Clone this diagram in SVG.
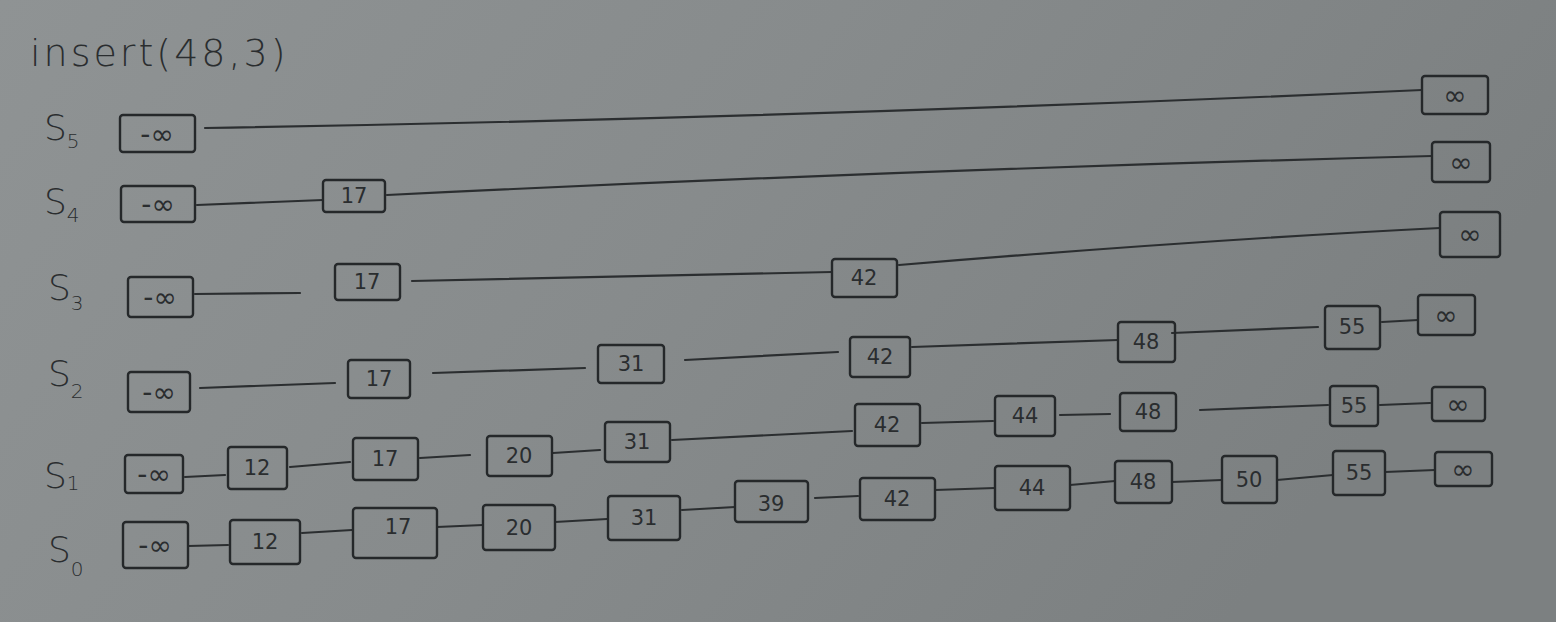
<svg xmlns="http://www.w3.org/2000/svg" width="1556" height="622" viewBox="0 0 1556 622">
<defs>
<linearGradient id="bg" x1="0" y1="0" x2="1" y2="0.3">
<stop offset="0" stop-color="#8f9394"/>
<stop offset="0.5" stop-color="#878b8c"/>
<stop offset="1" stop-color="#7c8081"/>
</linearGradient>
<style>
.box{fill:none;stroke:#25282a;stroke-width:2.4;stroke-linejoin:round}
.ln{fill:none;stroke:#2b2e30;stroke-width:2.2;stroke-linecap:round}
.lbl{font-family:"DejaVu Sans","Liberation Sans",sans-serif;font-size:21px;fill:#2a2d2f;text-anchor:middle;dominant-baseline:central}
.inf{font-size:28px}
.hd{font-family:"DejaVu Sans","Liberation Sans",sans-serif;fill:#2a2d2f}
</style>
</defs>
<rect width="1556" height="622" fill="url(#bg)"/>
<text class="hd" x="30" y="66" font-size="38" font-weight="300" letter-spacing="3">insert(48,3)</text>
<g id="levels" class="hd" font-size="36" font-weight="300">
<text x="44" y="140">S<tspan font-size="20" dy="8">5</tspan></text>
<text x="44" y="214">S<tspan font-size="20" dy="8">4</tspan></text>
<text x="48" y="300">S<tspan font-size="20" dy="10">3</tspan></text>
<text x="48" y="386">S<tspan font-size="20" dy="12">2</tspan></text>
<text x="44" y="488">S<tspan font-size="20" dy="2">1</tspan></text>
<text x="48" y="562">S<tspan font-size="20" dy="14">0</tspan></text>
</g>
<g id="connectors">
<path class="ln" d="M205,128 Q800,118 1422,90"/>
<path class="ln" d="M197,205 L323,200"/>
<path class="ln" d="M387,195 Q900,170 1432,156"/>
<path class="ln" d="M195,294 L300,293"/>
<path class="ln" d="M412,281 L832,272"/>
<path class="ln" d="M899,265 Q1200,240 1440,228"/>
<path class="ln" d="M200,388 L335,383"/>
<path class="ln" d="M433,373 L585,368"/>
<path class="ln" d="M685,360 L838,352"/>
<path class="ln" d="M912,347 L1118,340"/>
<path class="ln" d="M1172,333 L1318,327"/>
<path class="ln" d="M1382,322 L1418,320"/>
<path class="ln" d="M185,477 L225,475"/>
<path class="ln" d="M290,467 L350,462"/>
<path class="ln" d="M420,458 L470,455"/>
<path class="ln" d="M553,453 L600,450"/>
<path class="ln" d="M672,440 L852,431"/>
<path class="ln" d="M922,423 L993,421"/>
<path class="ln" d="M1060,415 L1110,414"/>
<path class="ln" d="M1200,410 L1328,405"/>
<path class="ln" d="M1380,405 L1430,403"/>
<path class="ln" d="M188,546 L228,545"/>
<path class="ln" d="M302,533 L352,530"/>
<path class="ln" d="M437,527 L483,525"/>
<path class="ln" d="M555,522 L607,519"/>
<path class="ln" d="M682,510 L735,507"/>
<path class="ln" d="M815,498 L858,496"/>
<path class="ln" d="M935,490 L995,488"/>
<path class="ln" d="M1070,485 L1115,481"/>
<path class="ln" d="M1172,482 L1222,480"/>
<path class="ln" d="M1277,480 L1333,475"/>
<path class="ln" d="M1385,472 L1435,470"/>
</g>
<g id="n5_ninf"><rect class="box" x="120" y="115" width="75" height="37" rx="3"/><text class="lbl inf" x="157" y="134">-∞</text></g>
<g id="n5_inf"><rect class="box" x="1422" y="76" width="66" height="38" rx="3"/><text class="lbl inf" x="1455" y="95">∞</text></g>
<g id="n4_ninf"><rect class="box" x="121" y="186" width="74" height="36" rx="3"/><text class="lbl inf" x="158" y="204">-∞</text></g>
<g id="n4_17"><rect class="box" x="323" y="180" width="62" height="32" rx="3"/><text class="lbl" x="354" y="196">17</text></g>
<g id="n4_inf"><rect class="box" x="1432" y="142" width="58" height="40" rx="3"/><text class="lbl inf" x="1461" y="162">∞</text></g>
<g id="n3_ninf"><rect class="box" x="128" y="277" width="65" height="40" rx="3"/><text class="lbl inf" x="160" y="297">-∞</text></g>
<g id="n3_17"><rect class="box" x="335" y="264" width="65" height="36" rx="3"/><text class="lbl" x="367" y="282">17</text></g>
<g id="n3_42"><rect class="box" x="832" y="259" width="65" height="38" rx="3"/><text class="lbl" x="864" y="278">42</text></g>
<g id="n3_inf"><rect class="box" x="1440" y="212" width="60" height="45" rx="3"/><text class="lbl inf" x="1470" y="234">∞</text></g>
<g id="n2_ninf"><rect class="box" x="128" y="372" width="62" height="40" rx="3"/><text class="lbl inf" x="159" y="392">-∞</text></g>
<g id="n2_17"><rect class="box" x="348" y="360" width="62" height="38" rx="3"/><text class="lbl" x="379" y="379">17</text></g>
<g id="n2_31"><rect class="box" x="598" y="345" width="66" height="38" rx="3"/><text class="lbl" x="631" y="364">31</text></g>
<g id="n2_42"><rect class="box" x="850" y="337" width="60" height="40" rx="3"/><text class="lbl" x="880" y="357">42</text></g>
<g id="n2_48"><rect class="box" x="1118" y="322" width="57" height="40" rx="3"/><text class="lbl" x="1146" y="342">48</text></g>
<g id="n2_55"><rect class="box" x="1325" y="306" width="55" height="43" rx="3"/><text class="lbl" x="1352" y="327">55</text></g>
<g id="n2_inf"><rect class="box" x="1418" y="295" width="57" height="40" rx="3"/><text class="lbl inf" x="1446" y="315">∞</text></g>
<g id="n1_ninf"><rect class="box" x="125" y="455" width="58" height="38" rx="3"/><text class="lbl inf" x="154" y="474">-∞</text></g>
<g id="n1_12"><rect class="box" x="228" y="447" width="59" height="42" rx="3"/><text class="lbl" x="257" y="468">12</text></g>
<g id="n1_17"><rect class="box" x="353" y="438" width="65" height="42" rx="3"/><text class="lbl" x="385" y="459">17</text></g>
<g id="n1_20"><rect class="box" x="487" y="436" width="65" height="40" rx="3"/><text class="lbl" x="519" y="456">20</text></g>
<g id="n1_31"><rect class="box" x="605" y="422" width="65" height="40" rx="3"/><text class="lbl" x="637" y="442">31</text></g>
<g id="n1_42"><rect class="box" x="855" y="404" width="65" height="42" rx="3"/><text class="lbl" x="887" y="425">42</text></g>
<g id="n1_44"><rect class="box" x="995" y="396" width="60" height="40" rx="3"/><text class="lbl" x="1025" y="416">44</text></g>
<g id="n1_48"><rect class="box" x="1120" y="393" width="56" height="38" rx="3"/><text class="lbl" x="1148" y="412">48</text></g>
<g id="n1_55"><rect class="box" x="1330" y="386" width="48" height="40" rx="3"/><text class="lbl" x="1354" y="406">55</text></g>
<g id="n1_inf"><rect class="box" x="1432" y="387" width="53" height="34" rx="3"/><text class="lbl inf" x="1458" y="404">∞</text></g>
<g id="n0_ninf"><rect class="box" x="123" y="522" width="65" height="46" rx="3"/><text class="lbl inf" x="155" y="545">-∞</text></g>
<g id="n0_12"><rect class="box" x="230" y="520" width="70" height="44" rx="3"/><text class="lbl" x="265" y="542" font-size="26">12</text></g>
<g id="n0_17"><rect class="box" x="353" y="508" width="84" height="50" rx="3"/><text class="lbl" x="398" y="527">17</text></g>
<g id="n0_20"><rect class="box" x="483" y="505" width="72" height="45" rx="3"/><text class="lbl" x="519" y="528" font-size="26">20</text></g>
<g id="n0_31"><rect class="box" x="608" y="496" width="72" height="44" rx="3"/><text class="lbl" x="644" y="518" font-size="24">31</text></g>
<g id="n0_39"><rect class="box" x="735" y="481" width="73" height="41" rx="3"/><text class="lbl" x="771" y="504">39</text></g>
<g id="n0_42"><rect class="box" x="860" y="478" width="75" height="42" rx="3"/><text class="lbl" x="897" y="499" font-size="24">42</text></g>
<g id="n0_44"><rect class="box" x="995" y="466" width="75" height="44" rx="3"/><text class="lbl" x="1032" y="488" font-size="24">44</text></g>
<g id="n0_48"><rect class="box" x="1115" y="461" width="57" height="42" rx="3"/><text class="lbl" x="1143" y="482">48</text></g>
<g id="n0_50"><rect class="box" x="1222" y="456" width="55" height="47" rx="3"/><text class="lbl" x="1249" y="480">50</text></g>
<g id="n0_55"><rect class="box" x="1333" y="451" width="52" height="44" rx="3"/><text class="lbl" x="1359" y="473">55</text></g>
<g id="n0_inf"><rect class="box" x="1435" y="452" width="57" height="34" rx="3"/><text class="lbl inf" x="1463" y="469">∞</text></g>
</svg>
